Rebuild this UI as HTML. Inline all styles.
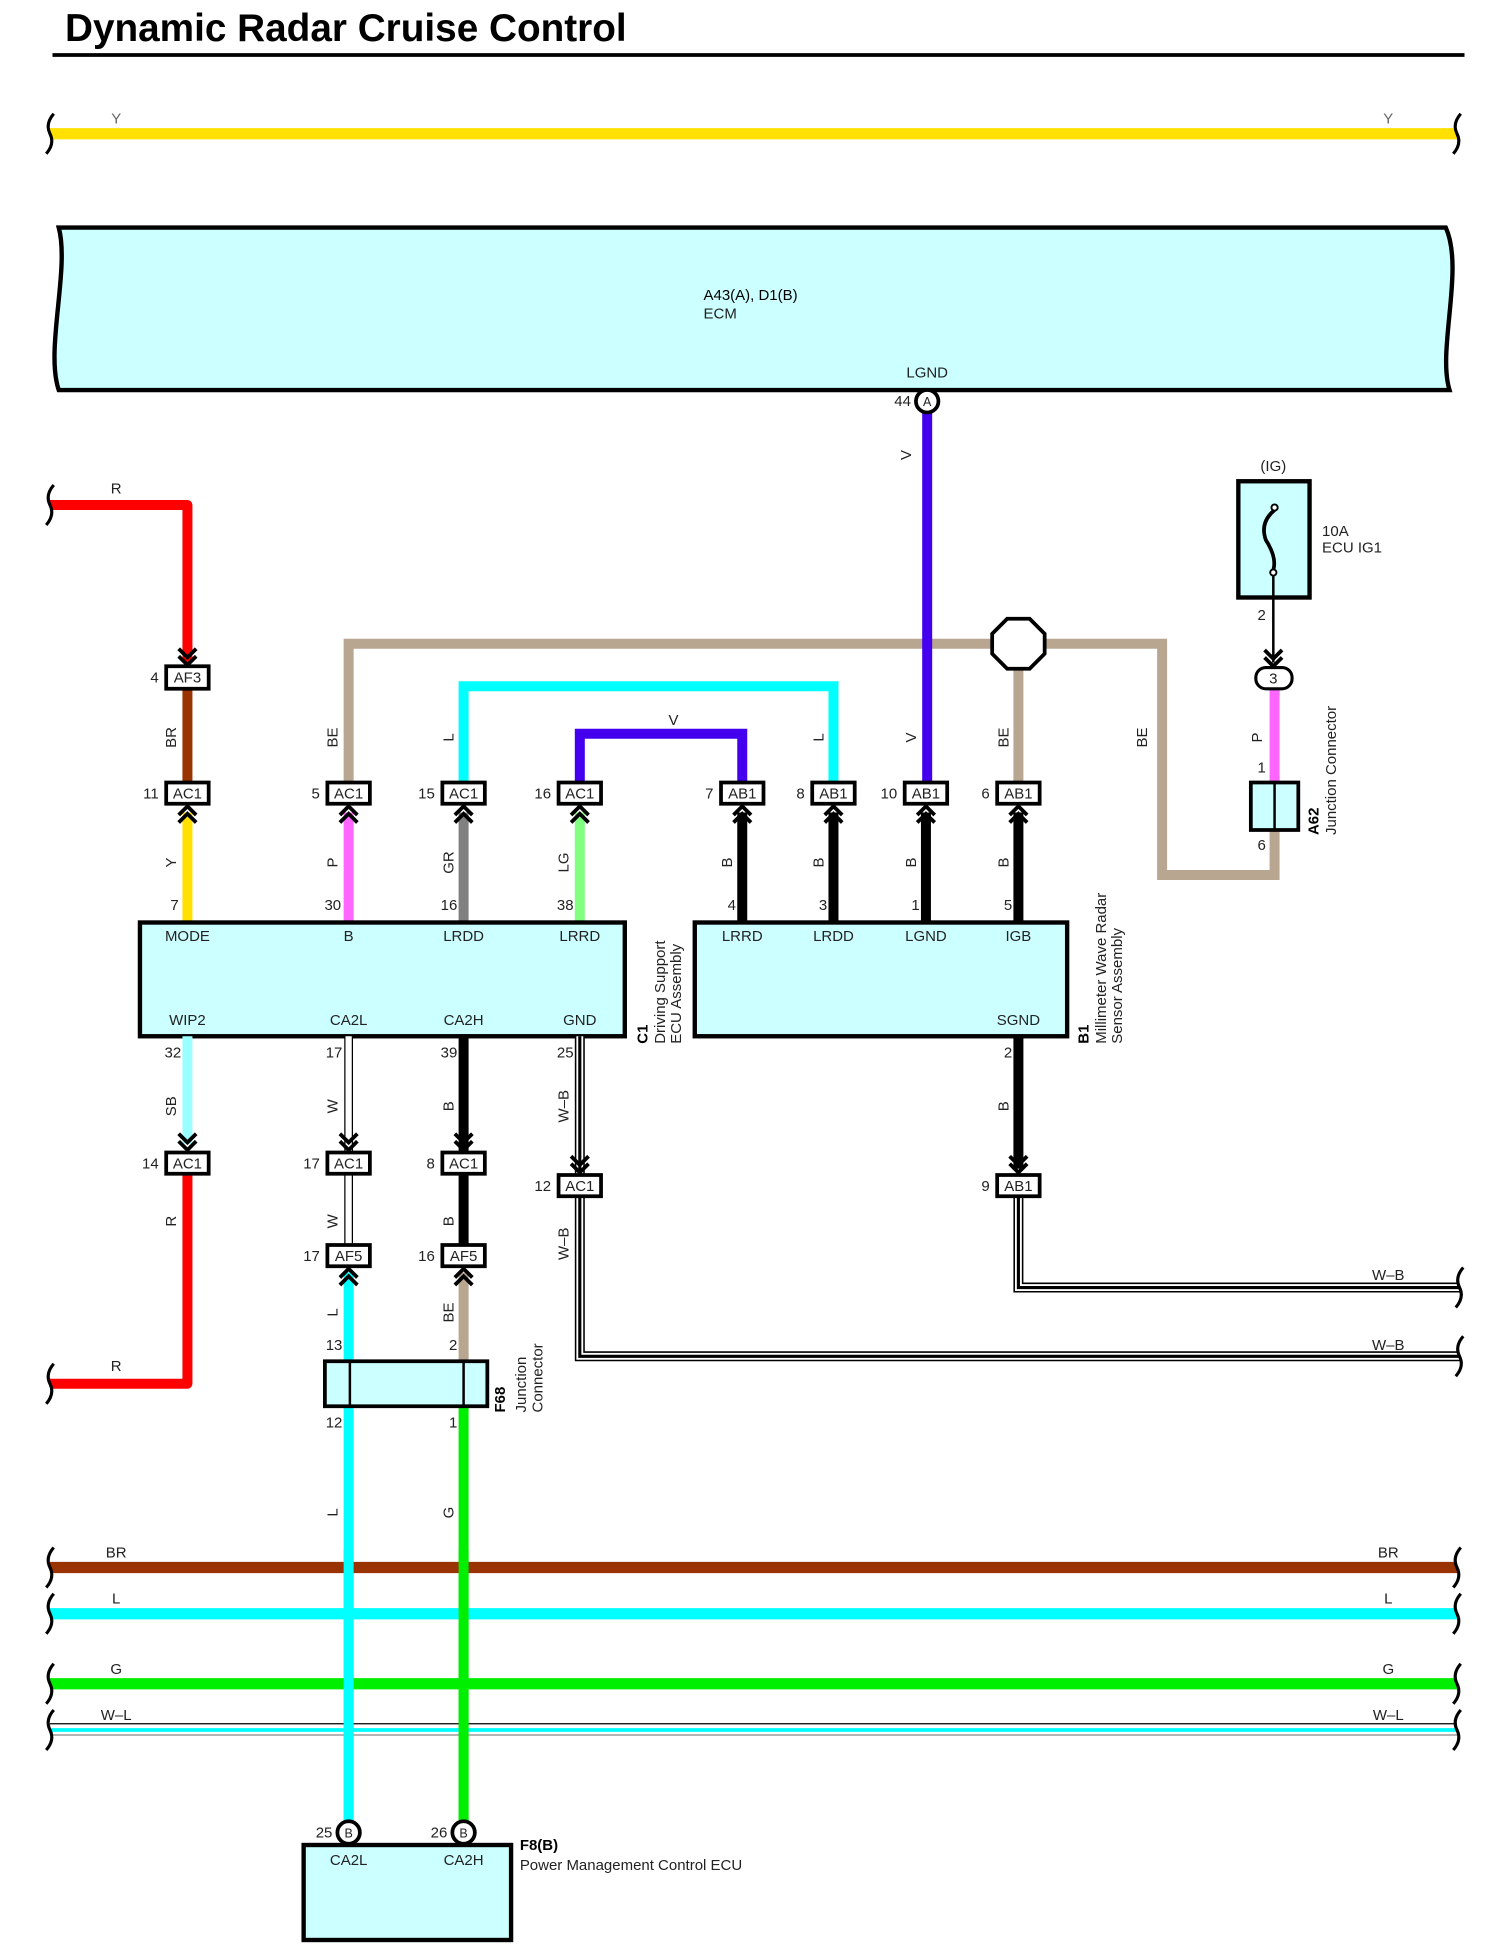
<!DOCTYPE html>
<html><head><meta charset="utf-8"><style>
html,body{margin:0;padding:0;background:#fff;}
svg{display:block;}
text{font-family:"Liberation Sans",sans-serif;font-size:12px;fill:#222;}
.b{font-weight:bold;fill:#000;}
.c{text-anchor:middle;}
.r{text-anchor:end;}
</style></head><body>
<svg width="1487" height="1960" viewBox="0 0 1190 1568" preserveAspectRatio="none" xmlns="http://www.w3.org/2000/svg">
<defs>
<path id="up" d="M-7,7 L0,0 L7,7 M-7,13 L0,6 L7,13" fill="none" stroke="#000" stroke-width="3"/>
<path id="dn" d="M-7,-7 L0,0 L7,-7 M-7,-13 L0,-6 L7,-13" fill="none" stroke="#000" stroke-width="3"/>
<path id="sq" d="M3,-16 Q-4,-8 0,0 Q4,8 -3,16" fill="none" stroke="#000" stroke-width="2.5"/>
</defs>
<rect width="1190" height="1568" fill="#fff"/>
<!-- title -->
<text x="52" y="33" class="b" style="font-size:31px">Dynamic Radar Cruise Control</text>
<line x1="42" y1="44" x2="1172" y2="44" stroke="#000" stroke-width="3"/>

<!-- Y bus -->
<line x1="40" y1="107" x2="1166" y2="107" stroke="#ffe000" stroke-width="9"/>
<text x="93" y="99" class="c" style="fill:#666">Y</text><text x="1111" y="99" class="c" style="fill:#666">Y</text>
<use href="#sq" x="40" y="107"/><use href="#sq" x="1166" y="107"/>

<!-- ECM -->
<path d="M47,182 L1157,182 C1172,215 1150,280 1160,312 L47,312 C36,280 56,215 47,182 Z" fill="#ccffff" stroke="#000" stroke-width="3.5"/>
<text x="563" y="240" style="fill:#000">A43(A), D1(B)</text>
<text x="563" y="255">ECM</text>
<text x="742" y="302" class="c">LGND</text>

<!-- BE network -->
<polyline points="279,625 279,515 930,515 930,700 1020,700 1020,665" fill="none" stroke="#b8a690" stroke-width="8"/>
<line x1="815" y1="515" x2="815" y2="625" stroke="#b8a690" stroke-width="8"/>
<polygon points="806,495 824,495 836,507 836,523 824,535 806,535 794,523 794,507" fill="#fff" stroke="#000" stroke-width="3"/>
<!-- L cyan -->
<polyline points="371,625 371,549 667,549 667,625" fill="none" stroke="#00ffff" stroke-width="8"/>
<!-- V purple -->
<polyline points="464,625 464,587 594,587 594,625" fill="none" stroke="#4400ee" stroke-width="8"/>
<line x1="742" y1="330" x2="742" y2="625" stroke="#4400ee" stroke-width="8"/>
<circle cx="742" cy="321" r="9" fill="#fff" stroke="#000" stroke-width="3"/>
<text x="742" y="325" class="c" style="font-size:10px">A</text>
<text x="729" y="325" class="r">44</text>
<text x="733" y="368" class="c" transform="rotate(-90 729 368)">V</text>

<!-- Red -->
<polyline points="40,404 150,404 150,530" fill="none" stroke="#ff0000" stroke-width="8" stroke-linejoin="round"/>
<use href="#sq" x="40" y="404"/>
<text x="93" y="395" class="c">R</text>
<use href="#dn" x="150" y="532"/>
<line x1="150" y1="552" x2="150" y2="625" stroke="#993300" stroke-width="8"/>
<rect x="133" y="533" width="34" height="18" fill="#fff" stroke="#000" stroke-width="3"/>
<text x="150" y="546" class="c">AF3</text><text x="127" y="546" class="r">4</text>
<text x="141" y="590" class="c" transform="rotate(-90 141 590)">BR</text>

<!-- wires into C1/B1 -->
<line x1="150" y1="650" x2="150" y2="738" stroke="#ffe000" stroke-width="8"/>
<line x1="279" y1="650" x2="279" y2="738" stroke="#ff66ff" stroke-width="8"/>
<line x1="371" y1="650" x2="371" y2="738" stroke="#808080" stroke-width="8"/>
<line x1="464" y1="650" x2="464" y2="738" stroke="#80ff80" stroke-width="8"/>
<line x1="594" y1="650" x2="594" y2="738" stroke="#000" stroke-width="8"/>
<line x1="667" y1="650" x2="667" y2="738" stroke="#000" stroke-width="8"/>
<line x1="741" y1="650" x2="741" y2="738" stroke="#000" stroke-width="8"/>
<line x1="815" y1="650" x2="815" y2="738" stroke="#000" stroke-width="8"/>
<g>
<use href="#up" x="150" y="645"/><use href="#up" x="279" y="645"/><use href="#up" x="371" y="645"/><use href="#up" x="464" y="645"/>
<use href="#up" x="594" y="645"/><use href="#up" x="667" y="645"/><use href="#up" x="741" y="645"/><use href="#up" x="815" y="645"/>
</g>
<g fill="#fff" stroke="#000" stroke-width="3">
<rect x="133" y="626" width="34" height="17"/><rect x="262" y="626" width="34" height="17"/><rect x="354" y="626" width="34" height="17"/><rect x="447" y="626" width="34" height="17"/>
<rect x="577" y="626" width="34" height="17"/><rect x="650" y="626" width="34" height="17"/><rect x="724" y="626" width="34" height="17"/><rect x="798" y="626" width="34" height="17"/>
</g>
<text x="150" y="639" class="c">AC1</text><text x="279" y="639" class="c">AC1</text><text x="371" y="639" class="c">AC1</text><text x="464" y="639" class="c">AC1</text>
<text x="594" y="639" class="c">AB1</text><text x="667" y="639" class="c">AB1</text><text x="741" y="639" class="c">AB1</text><text x="815" y="639" class="c">AB1</text>
<text x="127" y="639" class="r">11</text><text x="256" y="639" class="r">5</text><text x="348" y="639" class="r">15</text><text x="441" y="639" class="r">16</text>
<text x="571" y="639" class="r">7</text><text x="644" y="639" class="r">8</text><text x="718" y="639" class="r">10</text><text x="792" y="639" class="r">6</text>
<!-- wire labels -->
<g>
<text x="270" y="590" class="c" transform="rotate(-90 270 590)">BE</text>
<text x="363" y="590" class="c" transform="rotate(-90 363 590)">L</text>
<text x="659" y="590" class="c" transform="rotate(-90 659 590)">L</text>
<text x="733" y="590" class="c" transform="rotate(-90 733 590)">V</text>
<text x="807" y="590" class="c" transform="rotate(-90 807 590)">BE</text>
<text x="918" y="590" class="c" transform="rotate(-90 918 590)">BE</text>
<text x="539" y="580" class="c">V</text>
<text x="141" y="690" class="c" transform="rotate(-90 141 690)">Y</text>
<text x="270" y="690" class="c" transform="rotate(-90 270 690)">P</text>
<text x="363" y="690" class="c" transform="rotate(-90 363 690)">GR</text>
<text x="455" y="690" class="c" transform="rotate(-90 455 690)">LG</text>
<text x="586" y="690" class="c" transform="rotate(-90 586 690)">B</text>
<text x="659" y="690" class="c" transform="rotate(-90 659 690)">B</text>
<text x="733" y="690" class="c" transform="rotate(-90 733 690)">B</text>
<text x="807" y="690" class="c" transform="rotate(-90 807 690)">B</text>
</g>
<text x="143" y="728" class="r">7</text><text x="273" y="728" class="r">30</text><text x="366" y="728" class="r">16</text><text x="459" y="728" class="r">38</text>
<text x="589" y="728" class="r">4</text><text x="662" y="728" class="r">3</text><text x="736" y="728" class="r">1</text><text x="810" y="728" class="r">5</text>

<!-- C1 box -->
<rect x="112" y="738" width="388" height="91" fill="#ccffff" stroke="#000" stroke-width="3.5"/>
<text x="150" y="753" class="c">MODE</text><text x="279" y="753" class="c">B</text><text x="371" y="753" class="c">LRDD</text><text x="464" y="753" class="c">LRRD</text>
<text x="150" y="820" class="c">WIP2</text><text x="279" y="820" class="c">CA2L</text><text x="371" y="820" class="c">CA2H</text><text x="464" y="820" class="c">GND</text>
<text x="518" y="835" class="b" style="font-size:12px" transform="rotate(-90 518 835)">C1</text>
<text x="532" y="835" transform="rotate(-90 532 835)">Driving Support</text>
<text x="545" y="835" transform="rotate(-90 545 835)">ECU Assembly</text>
<!-- B1 box -->
<rect x="556" y="738" width="298" height="91" fill="#ccffff" stroke="#000" stroke-width="3.5"/>
<text x="594" y="753" class="c">LRRD</text><text x="667" y="753" class="c">LRDD</text><text x="741" y="753" class="c">LGND</text><text x="815" y="753" class="c">IGB</text>
<text x="815" y="820" class="c">SGND</text>
<text x="871" y="835" class="b" style="font-size:12px" transform="rotate(-90 871 835)">B1</text>
<text x="885" y="835" transform="rotate(-90 885 835)">Millimeter Wave Radar</text>
<text x="898" y="835" transform="rotate(-90 898 835)">Sensor Assembly</text>

<!-- Fuse / A62 -->
<text x="1019" y="377" class="c">(IG)</text>
<rect x="991" y="385" width="57" height="93" fill="#ccffff" stroke="#000" stroke-width="3.5"/>
<path d="M1020,408 Q1008,418 1013,432 Q1022,446 1019,456" fill="none" stroke="#000" stroke-width="3"/>
<circle cx="1020" cy="406" r="2.5" fill="#fff" stroke="#000" stroke-width="1.5"/>
<circle cx="1019" cy="458" r="2.5" fill="#fff" stroke="#000" stroke-width="1.5"/>
<text x="1058" y="429">10A</text><text x="1058" y="442">ECU IG1</text>
<line x1="1019" y1="461" x2="1019" y2="530" stroke="#000" stroke-width="2"/>
<use href="#dn" x="1019" y="533"/>
<text x="1013" y="496" class="r">2</text>
<line x1="1020" y1="551" x2="1020" y2="626" stroke="#ff66ff" stroke-width="8"/>
<rect x="1005" y="534" width="29" height="17" rx="8" fill="#fff" stroke="#000" stroke-width="2.5"/>
<text x="1019" y="547" class="c">3</text>
<text x="1010" y="590" class="c" transform="rotate(-90 1010 590)">P</text>
<text x="1013" y="618" class="r">1</text>
<rect x="1001" y="626" width="38" height="38" fill="#ccffff" stroke="#000" stroke-width="3"/>
<line x1="1020" y1="626" x2="1020" y2="664" stroke="#000" stroke-width="2"/>
<text x="1013" y="680" class="r">6</text>
<text x="1055" y="668" class="b" style="font-size:12px" transform="rotate(-90 1055 668)">A62</text>
<text x="1069" y="668" transform="rotate(-90 1069 668)">Junction Connector</text>

<!-- below C1 -->
<line x1="150" y1="829" x2="150" y2="915" stroke="#99ffff" stroke-width="8"/>
<use href="#dn" x="150" y="920"/>
<polyline points="150,940 150,1107 40,1107" fill="none" stroke="#ff0000" stroke-width="8" stroke-linejoin="round"/>
<use href="#sq" x="40" y="1107"/>
<text x="93" y="1097" class="c">R</text>
<text x="145" y="846" class="r">32</text>
<text x="141" y="885" class="c" transform="rotate(-90 141 885)">SB</text>
<text x="141" y="977" class="c" transform="rotate(-90 141 977)">R</text>

<!-- W at 279 -->
<line x1="279" y1="829" x2="279" y2="995" stroke="#000" stroke-width="7"/>
<line x1="279" y1="829" x2="279" y2="995" stroke="#fff" stroke-width="5"/>
<use href="#dn" x="279" y="920"/>
<line x1="279" y1="1018" x2="279" y2="1458" stroke="#00ffff" stroke-width="8"/>
<use href="#up" x="279" y="1015"/>
<text x="274" y="846" class="r">17</text>
<text x="270" y="885" class="c" transform="rotate(-90 270 885)">W</text>
<text x="270" y="977" class="c" transform="rotate(-90 270 977)">W</text>
<text x="270" y="1050" class="c" transform="rotate(-90 270 1050)">L</text>
<text x="274" y="1080" class="r">13</text>
<text x="274" y="1142" class="r">12</text>
<text x="270" y="1210" class="c" transform="rotate(-90 270 1210)">L</text>

<!-- B at 371 -->
<line x1="371" y1="829" x2="371" y2="995" stroke="#000" stroke-width="8"/>
<use href="#dn" x="371" y="920"/>
<line x1="371" y1="1018" x2="371" y2="1090" stroke="#b8a690" stroke-width="8"/>
<use href="#up" x="371" y="1015"/>
<line x1="371" y1="1125" x2="371" y2="1458" stroke="#00ee00" stroke-width="8"/>
<text x="366" y="846" class="r">39</text>
<text x="363" y="885" class="c" transform="rotate(-90 363 885)">B</text>
<text x="363" y="977" class="c" transform="rotate(-90 363 977)">B</text>
<text x="363" y="1050" class="c" transform="rotate(-90 363 1050)">BE</text>
<text x="366" y="1080" class="r">2</text>
<text x="366" y="1142" class="r">1</text>
<text x="363" y="1210" class="c" transform="rotate(-90 363 1210)">G</text>

<!-- W-B at 464 -->
<polyline points="464,829 464,1085 1168,1085" fill="none" stroke="#000" stroke-width="8"/>
<polyline points="464,829 464,1085 1168,1085" fill="none" stroke="#fff" stroke-width="5.5"/>
<polyline points="464,829 464,1085 1168,1085" fill="none" stroke="#000" stroke-width="2.5"/>
<use href="#dn" x="464" y="938"/>
<text x="459" y="846" class="r">25</text>
<text x="455" y="885" class="c" transform="rotate(-90 455 885)">W–B</text>
<text x="455" y="995" class="c" transform="rotate(-90 455 995)">W–B</text>
<text x="1111" y="1080" class="c">W–B</text>
<use href="#sq" x="1168" y="1085"/>

<!-- 815 -->
<line x1="815" y1="829" x2="815" y2="935" stroke="#000" stroke-width="8"/>
<use href="#dn" x="815" y="938"/>
<polyline points="815,955 815,1030 1168,1030" fill="none" stroke="#000" stroke-width="8"/>
<polyline points="815,955 815,1030 1168,1030" fill="none" stroke="#fff" stroke-width="5.5"/>
<polyline points="815,955 815,1030 1168,1030" fill="none" stroke="#000" stroke-width="2.5"/>
<text x="810" y="846" class="r">2</text>
<text x="807" y="885" class="c" transform="rotate(-90 807 885)">B</text>
<text x="1111" y="1024" class="c">W–B</text>
<use href="#sq" x="1168" y="1030"/>

<g fill="#fff" stroke="#000" stroke-width="3">
<rect x="133" y="922" width="34" height="17"/><rect x="262" y="922" width="34" height="17"/><rect x="354" y="922" width="34" height="17"/>
<rect x="447" y="940" width="34" height="17"/><rect x="798" y="940" width="34" height="17"/>
<rect x="262" y="996" width="34" height="17"/><rect x="354" y="996" width="34" height="17"/>
</g>
<text x="150" y="935" class="c">AC1</text><text x="279" y="935" class="c">AC1</text><text x="371" y="935" class="c">AC1</text>
<text x="464" y="953" class="c">AC1</text><text x="815" y="953" class="c">AB1</text>
<text x="279" y="1009" class="c">AF5</text><text x="371" y="1009" class="c">AF5</text>
<text x="127" y="935" class="r">14</text><text x="256" y="935" class="r">17</text><text x="348" y="935" class="r">8</text>
<text x="441" y="953" class="r">12</text><text x="792" y="953" class="r">9</text>
<text x="256" y="1009" class="r">17</text><text x="348" y="1009" class="r">16</text>

<!-- F68 -->
<rect x="260" y="1089" width="130" height="36" fill="#ccffff" stroke="#000" stroke-width="3"/>
<line x1="280" y1="1089" x2="280" y2="1125" stroke="#000" stroke-width="2"/>
<line x1="371" y1="1089" x2="371" y2="1125" stroke="#000" stroke-width="2"/>
<text x="404" y="1130" class="b" style="font-size:12px" transform="rotate(-90 404 1130)">F68</text>
<text x="421" y="1130" transform="rotate(-90 421 1130)">Junction</text>
<text x="434" y="1130" transform="rotate(-90 434 1130)">Connector</text>

<!-- buses -->
<line x1="40" y1="1254" x2="1166" y2="1254" stroke="#993300" stroke-width="9"/>
<line x1="40" y1="1291" x2="1166" y2="1291" stroke="#00ffff" stroke-width="9"/>
<line x1="40" y1="1347" x2="1166" y2="1347" stroke="#00ee00" stroke-width="9"/>
<line x1="40" y1="1379" x2="1166" y2="1379" stroke="#000" stroke-width="1"/>
<line x1="40" y1="1384" x2="1166" y2="1384" stroke="#00ffff" stroke-width="3"/>
<line x1="40" y1="1388" x2="1166" y2="1388" stroke="#888" stroke-width="1"/>
<text x="93" y="1246" class="c">BR</text><text x="1111" y="1246" class="c">BR</text>
<text x="93" y="1283" class="c">L</text><text x="1111" y="1283" class="c">L</text>
<text x="93" y="1339" class="c">G</text><text x="1111" y="1339" class="c">G</text>
<text x="93" y="1376" class="c">W–L</text><text x="1111" y="1376" class="c">W–L</text>
<use href="#sq" x="40" y="1254"/><use href="#sq" x="40" y="1291"/><use href="#sq" x="40" y="1347"/><use href="#sq" x="40" y="1384"/>
<use href="#sq" x="1166" y="1254"/><use href="#sq" x="1166" y="1291"/><use href="#sq" x="1166" y="1347"/><use href="#sq" x="1166" y="1384"/>
<!-- verticals on top -->
<line x1="279" y1="1240" x2="279" y2="1458" stroke="#00ffff" stroke-width="8"/>
<line x1="371" y1="1240" x2="371" y2="1458" stroke="#00ee00" stroke-width="8"/>

<!-- F8 -->
<rect x="243" y="1476" width="166" height="76" fill="#ccffff" stroke="#000" stroke-width="3.5"/>
<circle cx="279" cy="1466" r="9" fill="#fff" stroke="#000" stroke-width="3"/>
<circle cx="371" cy="1466" r="9" fill="#fff" stroke="#000" stroke-width="3"/>
<text x="279" y="1470" class="c" style="font-size:10px">B</text><text x="371" y="1470" class="c" style="font-size:10px">B</text>
<text x="266" y="1470" class="r">25</text><text x="358" y="1470" class="r">26</text>
<text x="279" y="1492" class="c">CA2L</text><text x="371" y="1492" class="c">CA2H</text>
<text x="416" y="1480" class="b" style="font-size:12px">F8(B)</text>
<text x="416" y="1496">Power Management Control ECU</text>
</svg>
</body></html>
